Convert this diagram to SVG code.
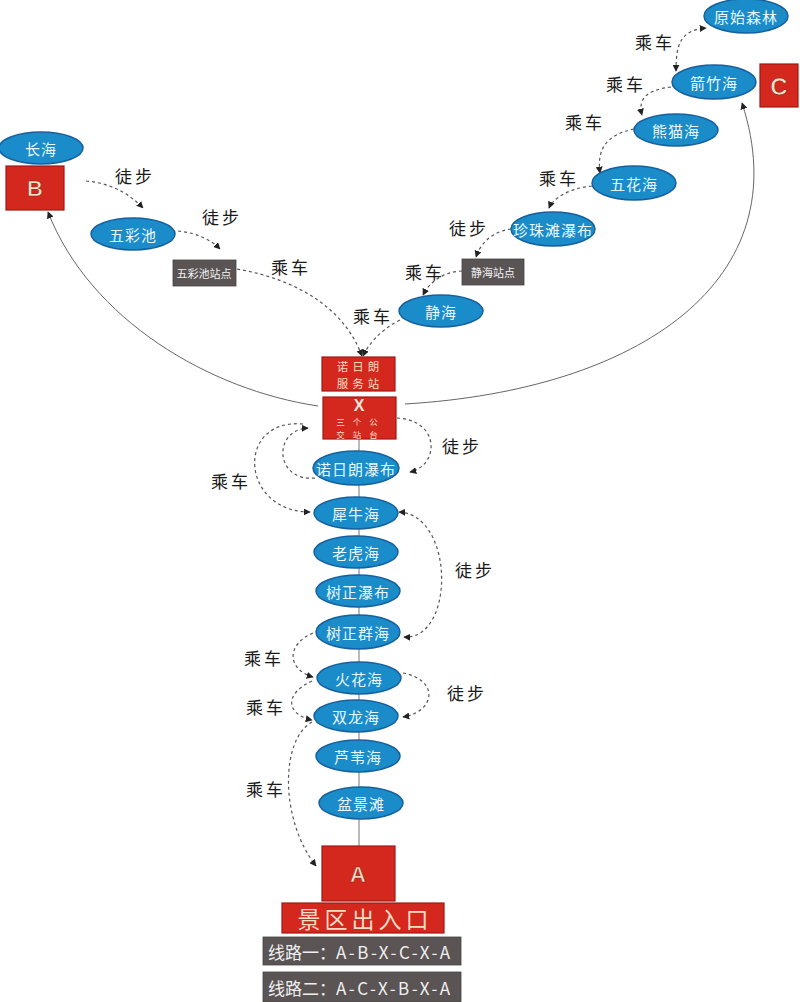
<svg xmlns="http://www.w3.org/2000/svg" width="800" height="1002" viewBox="0 0 800 1002">
<style>
.bg{fill:#ffffff}
.ell{fill:#1a8cca;stroke:#17609e;stroke-width:1.5}
.et{font-family:"Noto Sans CJK SC","Noto Sans",sans-serif;font-size:15px;fill:#e8f8ff;text-anchor:middle;dominant-baseline:central;letter-spacing:1px}
.red{fill:#d4271d;stroke:#9e1a14;stroke-width:1.2}
.rt{font-family:"Liberation Sans","Noto Sans",sans-serif;font-weight:bold;fill:#f7e0c6;text-anchor:middle;dominant-baseline:central;stroke:#8a1a12;stroke-width:0.6}
.rt2{font-family:"Noto Sans CJK SC",sans-serif;fill:#f7dcc4;text-anchor:middle;dominant-baseline:central}
.gray{fill:#5a5454;stroke:#444;stroke-width:0.8}
.gt{font-family:"Noto Sans CJK SC",sans-serif;font-size:11px;fill:#f2f2f2;text-anchor:middle;dominant-baseline:central}
.lt{font-family:"Noto Sans CJK SC",sans-serif;font-size:17px;fill:#1a1a1a;text-anchor:middle;dominant-baseline:central;letter-spacing:3px}
.dash{fill:none;stroke:#555;stroke-width:1.2;stroke-dasharray:3 3;marker-end:url(#ah)}
.dash2{fill:none;stroke:#555;stroke-width:1.2;stroke-dasharray:3 3;marker-end:url(#ah);marker-start:url(#ah)}
.solid{fill:none;stroke:#666;stroke-width:1;marker-end:url(#ah)}
.leg{font-family:"Noto Sans CJK SC",sans-serif;font-size:17px;fill:#f0f0f0;dominant-baseline:central}
</style>
<defs>
<marker id="ah" viewBox="0 0 10 10" refX="9" refY="5" markerWidth="7" markerHeight="7" markerUnits="userSpaceOnUse" orient="auto-start-reverse">
<path d="M0,0 L10,5 L0,10 z" fill="#222"/>
</marker>
</defs>
<rect class="bg" x="0" y="0" width="800" height="1002"/>

<g id="connectors">
<line x1="359" y1="439" x2="359" y2="846" stroke="#777" stroke-width="1"/>
<path class="solid" d="M318,406 C210,390 90,320 48,212"/>
<path class="solid" d="M405,404 C640,390 800,280 742,103"/>
<path class="dash" d="M86,181 Q120,184 143,208"/>
<path class="dash" d="M178,231 Q205,234 220,249"/>
<path class="dash" d="M237,269 C300,280 345,310 362,356"/>
<path class="dash" d="M400,320 C380,330 368,345 363,356"/>
<path class="dash" d="M462,271 C440,272 428,285 423,295"/>
<path class="dash" d="M511,229 C490,232 480,245 476,257"/>
<path class="dash" d="M592,186 C570,188 553,198 549,208"/>
<path class="dash" d="M634,129 C605,135 597,150 600,173"/>
<path class="dash" d="M671,87 C645,90 638,100 642,115"/>
<path class="dash2" d="M676,71 C676,45 680,30 706,28"/>
<path class="dash" d="M303,424 C235,418 240,512 310,512"/>
<path class="dash" d="M315,478 C275,482 272,430 308,428"/>
<path class="dash" d="M397,418 C440,420 440,465 410,472"/>
<path class="dash2" d="M399,512 C455,515 455,640 404,637"/>
<path class="dash" d="M313,633 C285,645 288,670 313,677"/>
<path class="dash" d="M312,681 C282,695 288,715 312,720"/>
<path class="dash" d="M403,673 C440,680 435,712 403,717"/>
<path class="dash" d="M312,722 C280,740 280,820 316,866"/>
</g>

<g id="labels">
<text class="lt" x="135" y="175">徒步</text>
<text class="lt" x="222" y="216">徒步</text>
<text class="lt" x="291" y="266">乘车</text>
<text class="lt" x="373" y="315">乘车</text>
<text class="lt" x="425" y="271">乘车</text>
<text class="lt" x="469" y="227">徒步</text>
<text class="lt" x="559" y="177">乘车</text>
<text class="lt" x="585" y="121">乘车</text>
<text class="lt" x="626" y="83">乘车</text>
<text class="lt" x="655" y="41">乘车</text>
<text class="lt" x="231" y="480">乘车</text>
<text class="lt" x="462" y="445">徒步</text>
<text class="lt" x="475" y="569">徒步</text>
<text class="lt" x="264" y="657">乘车</text>
<text class="lt" x="266" y="706">乘车</text>
<text class="lt" x="467" y="692">徒步</text>
<text class="lt" x="266" y="788">乘车</text>
</g>

<g id="n-yuanshisenlin"><ellipse class="ell" cx="746" cy="16" rx="42" ry="17"/><text class="et" x="746" y="16">原始森林</text></g>
<g id="n-jianzhuhai"><ellipse class="ell" cx="714" cy="82" rx="42" ry="17"/><text class="et" x="714" y="82">箭竹海</text></g>
<g id="n-C"><rect class="red" x="760" y="64" width="38" height="43"/><text class="rt" x="779" y="86" font-size="24">C</text></g>
<g id="n-xiongmaohai"><ellipse class="ell" cx="676" cy="130" rx="42" ry="16"/><text class="et" x="676" y="130">熊猫海</text></g>
<g id="n-wuhuahai"><ellipse class="ell" cx="634" cy="183" rx="42" ry="17"/><text class="et" x="634" y="183">五花海</text></g>
<g id="n-zhenzhutan"><ellipse class="ell" cx="553" cy="229" rx="42" ry="17"/><text class="et" x="553" y="229">珍珠滩瀑布</text></g>
<g id="n-jinghaizhan"><rect class="gray" x="462" y="259" width="62" height="26"/><text class="gt" x="493" y="272">静海站点</text></g>
<g id="n-jinghai"><ellipse class="ell" cx="441" cy="311" rx="42" ry="16"/><text class="et" x="441" y="311">静海</text></g>
<g id="n-changhai"><ellipse class="ell" cx="41" cy="148" rx="42" ry="16"/><text class="et" x="41" y="148">长海</text></g>
<g id="n-B"><rect class="red" x="6" y="166" width="58" height="44"/><text class="rt" x="35" y="188" font-size="22">B</text></g>
<g id="n-wucaichi"><ellipse class="ell" cx="133" cy="234" rx="42" ry="16"/><text class="et" x="133" y="234">五彩池</text></g>
<g id="n-wucaichizhan"><rect class="gray" x="173" y="260" width="63" height="26"/><text class="gt" x="204" y="273">五彩池站点</text></g>
<g id="n-fuwuzhan"><rect class="red" x="322" y="357" width="73" height="34"/>
<text class="rt2" x="360" y="365.5" font-size="11.5" letter-spacing="4">诺日朗</text>
<text class="rt2" x="360" y="383" font-size="11.5" letter-spacing="4">服务站</text></g>
<g id="n-X"><rect class="red" x="323" y="397" width="73" height="42"/>
<text x="359" y="405" font-size="16" font-family="Liberation Sans, sans-serif" font-weight="bold" fill="#f7e6dc" text-anchor="middle" dominant-baseline="central">X</text>
<text class="rt2" x="361" y="420.5" font-size="8.5" letter-spacing="8">三个公</text>
<text class="rt2" x="361" y="433.5" font-size="8.5" letter-spacing="8">交站台</text></g>
<g id="n-nuorilangpubu"><ellipse class="ell" cx="356" cy="468" rx="43" ry="17"/><text class="et" x="356" y="468">诺日朗瀑布</text></g>
<g id="n-xiniuhai"><ellipse class="ell" cx="356" cy="513" rx="42" ry="16"/><text class="et" x="356" y="513">犀牛海</text></g>
<g id="n-laohuhai"><ellipse class="ell" cx="356" cy="552" rx="42" ry="16"/><text class="et" x="356" y="552">老虎海</text></g>
<g id="n-shuzhengpubu"><ellipse class="ell" cx="358" cy="591" rx="42" ry="16"/><text class="et" x="358" y="591">树正瀑布</text></g>
<g id="n-shuzhengqunhai"><ellipse class="ell" cx="358" cy="632" rx="42" ry="17"/><text class="et" x="358" y="632">树正群海</text></g>
<g id="n-huohuahai"><ellipse class="ell" cx="359" cy="678" rx="42" ry="16"/><text class="et" x="359" y="678">火花海</text></g>
<g id="n-shuanglonghai"><ellipse class="ell" cx="356" cy="716" rx="42" ry="16"/><text class="et" x="356" y="716">双龙海</text></g>
<g id="n-luweihai"><ellipse class="ell" cx="358" cy="756" rx="42" ry="16"/><text class="et" x="358" y="756">芦苇海</text></g>
<g id="n-penjingtan"><ellipse class="ell" cx="361" cy="803" rx="42" ry="16"/><text class="et" x="361" y="803">盆景滩</text></g>
<g id="n-A"><rect class="red" x="322" y="846" width="73" height="55"/><text class="rt" x="358" y="874" font-size="22">A</text></g>
<g id="n-entrance"><rect class="red" x="282" y="903" width="162" height="30"/><text class="rt2" x="365" y="918" font-size="23" letter-spacing="4">景区出入口</text></g>
<g id="legend1"><rect class="gray" x="263" y="937" width="198" height="28"/><text class="leg" x="268" y="951"><tspan>线路一：</tspan><tspan letter-spacing="2.5">A-B-X-C-X-A</tspan></text></g>
<g id="legend2"><rect class="gray" x="263" y="972" width="198" height="30"/><text class="leg" x="268" y="987"><tspan>线路二：</tspan><tspan letter-spacing="2.5">A-C-X-B-X-A</tspan></text></g>
</svg>
